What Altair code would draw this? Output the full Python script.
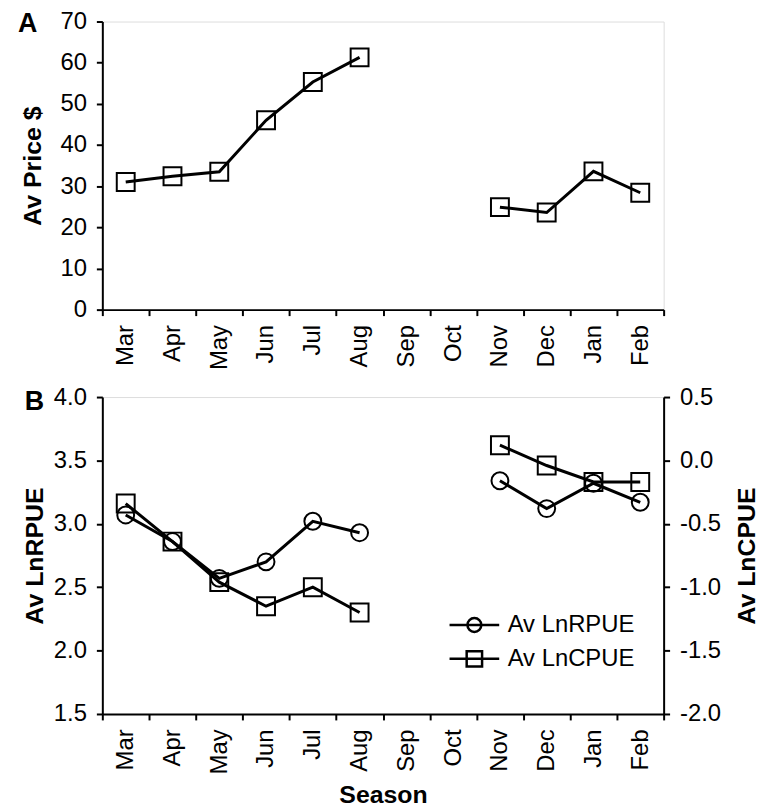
import altair as alt
import pandas as pd

# ---- data ----
months = ["Mar", "Apr", "May", "Jun", "Jul", "Aug", "Sep", "Oct", "Nov", "Dec", "Jan", "Feb"]
segment = [1, 1, 1, 1, 1, 1, 0, 0, 2, 2, 2, 2]
price = [31.0, 32.4, 33.5, 46.0, 55.3, 61.3, None, None, 24.9, 23.6, 33.6, 28.4]
ln_rpue = [3.07, 2.86, 2.57, 2.70, 3.02, 2.93, None, None, 3.34, 3.12, 3.32, 3.17]
ln_cpue = [-0.34, -0.64, -0.96, -1.15, -1.00, -1.20, None, None, 0.12, -0.04, -0.17, -0.17]
series_names = ["Av LnRPUE", "Av LnCPUE"]
panel_labels = ["A", "B"]
price_ticks = [0, 10, 20, 30, 40, 50, 60, 70]
rpue_ticks = [1.5, 2.0, 2.5, 3.0, 3.5, 4.0]
cpue_ticks = [-2.0, -1.5, -1.0, -0.5, 0.0, 0.5]

FONT = "Liberation Sans"
LABEL_SIZE = 24
TITLE_SIZE = 25

df = pd.DataFrame({
    "month": months,
    "seg": segment,
    "price": price,
    "rpue": ln_rpue,
    "cpue": ln_cpue,
    "s1": series_names[0],
    "s2": series_names[1],
})

common_axis = dict(
    labelFont=FONT, labelFontSize=LABEL_SIZE, labelColor="black",
    tickSize=6, tickWidth=2, tickColor="black",
    domainColor="black", domainWidth=2, grid=False,
    titleFont=FONT, titleFontSize=TITLE_SIZE, titleFontWeight="bold", titleColor="black",
)

x_scale = alt.Scale(type="band", domain=months, paddingInner=0, paddingOuter=0)


def x_enc(with_title):
    kw = dict(common_axis)
    kw.update(labelAngle=270, tickBand="extent", labelPadding=9, labelOverlap=False)
    if with_title:
        kw.update(title="Season", titlePadding=9, minExtent=60, maxExtent=60)
    else:
        kw.update(title=None)
    return alt.X("month:N", sort=months, scale=x_scale, axis=alt.Axis(**kw))


def y_axis(title, values, fmt, orient, extent, pad, **extra):
    kw = dict(common_axis)
    kw.update(title=title, values=values, format=fmt, orient=orient, labelPadding=10,
              minExtent=extent, maxExtent=extent, titlePadding=pad)
    kw.update(extra)
    return alt.Axis(**kw)


def panel_label(text, dx, dy):
    return alt.Chart(pd.DataFrame({"t": [text]})).mark_text(
        font=FONT, fontSize=27, fontWeight="bold", align="left",
        baseline="alphabetic", color="black"
    ).encode(text="t:N", x=alt.value(dx), y=alt.value(dy))


base = alt.Chart(df)

# ---- Panel A ----
y_price_scale = alt.Scale(domain=[0, 70], nice=False)
line_a = base.mark_line(color="black", strokeWidth=3).encode(
    x=x_enc(False),
    y=alt.Y("price:Q", scale=y_price_scale,
            axis=y_axis("Av Price $", price_ticks, "d", "left", 45, 12)),
    detail="seg:N",
)
pts_a = base.mark_point(shape="square", size=324, filled=False, color="black",
                        strokeWidth=2, opacity=1).encode(
    x=x_enc(False), y=alt.Y("price:Q", scale=y_price_scale),
)
chart_a = alt.layer(line_a, pts_a, panel_label(panel_labels[0], -85, 11)).properties(
    width=565, height=290)

# ---- Panel B ----
circle_path = "M-1,0H1M-0.28,0A0.28,0.28,0,1,1,0.28,0A0.28,0.28,0,1,1,-0.28,0Z"
square_path = "M-1,0H1M-0.31,-0.31H0.31V0.31H-0.31Z"


def legend(path, ly):
    return alt.Legend(
        title=None, orient="none", legendX=348, legendY=ly,
        symbolType=path, symbolSize=2500, symbolStrokeWidth=2.5,
        symbolFillColor="transparent", symbolStrokeColor="black",
        labelFont=FONT, labelFontSize=LABEL_SIZE, labelColor="black",
        labelOffset=7, padding=0, rowPadding=0,
    )


y_left_scale = alt.Scale(domain=[1.5, 4.0], nice=False, zero=False)
y_right_scale = alt.Scale(domain=[-2.0, 0.5], nice=False, zero=False)

left_layer = alt.layer(
    base.mark_line(strokeWidth=3).encode(
        x=x_enc(True),
        y=alt.Y("rpue:Q", scale=y_left_scale,
                axis=y_axis("Av LnRPUE", rpue_ticks, ".1f", "left", 40, 15)),
        detail="seg:N",
        color=alt.Color("s1:N", scale=alt.Scale(range=["black"]), legend=legend(circle_path, 203)),
    ),
    base.mark_point(shape="circle", size=289, filled=False, color="black",
                    strokeWidth=2, opacity=1).encode(
        x=x_enc(True), y=alt.Y("rpue:Q", scale=y_left_scale),
    ),
)

right_layer = alt.layer(
    base.mark_line(strokeWidth=3).encode(
        x=x_enc(True),
        y=alt.Y("cpue:Q", scale=y_right_scale,
                axis=y_axis("Av LnCPUE", cpue_ticks, ".1f", "right", 58, 13,
                            titleAngle=270, titleBaseline="top")),
        detail="seg:N",
        color=alt.Color("s2:N", scale=alt.Scale(range=["black"]), legend=legend(square_path, 237)),
    ),
    base.mark_point(shape="square", size=324, filled=False, color="black",
                    strokeWidth=2, opacity=1).encode(
        x=x_enc(True), y=alt.Y("cpue:Q", scale=y_right_scale),
    ),
)

chart_b = alt.layer(left_layer, right_layer, panel_label(panel_labels[1], -78, 13)).resolve_scale(
    y="independent", color="independent"
).resolve_legend(color="independent").properties(width=565, height=319)

chart = alt.vconcat(chart_a, chart_b, spacing=88, bounds="flush").resolve_scale(
    color="independent"
).resolve_legend(color="independent").properties(
    padding={"left": 17, "top": 6, "right": 0, "bottom": 0}
).configure_view(stroke=None).configure(
    font=FONT,
    locale={"number": {"decimal": ".", "thousands": ",", "grouping": [3],
                       "currency": ["$", ""], "minus": "-"}},
)

chart.save("out.html", embed_options={"renderer": "svg", "actions": False})
